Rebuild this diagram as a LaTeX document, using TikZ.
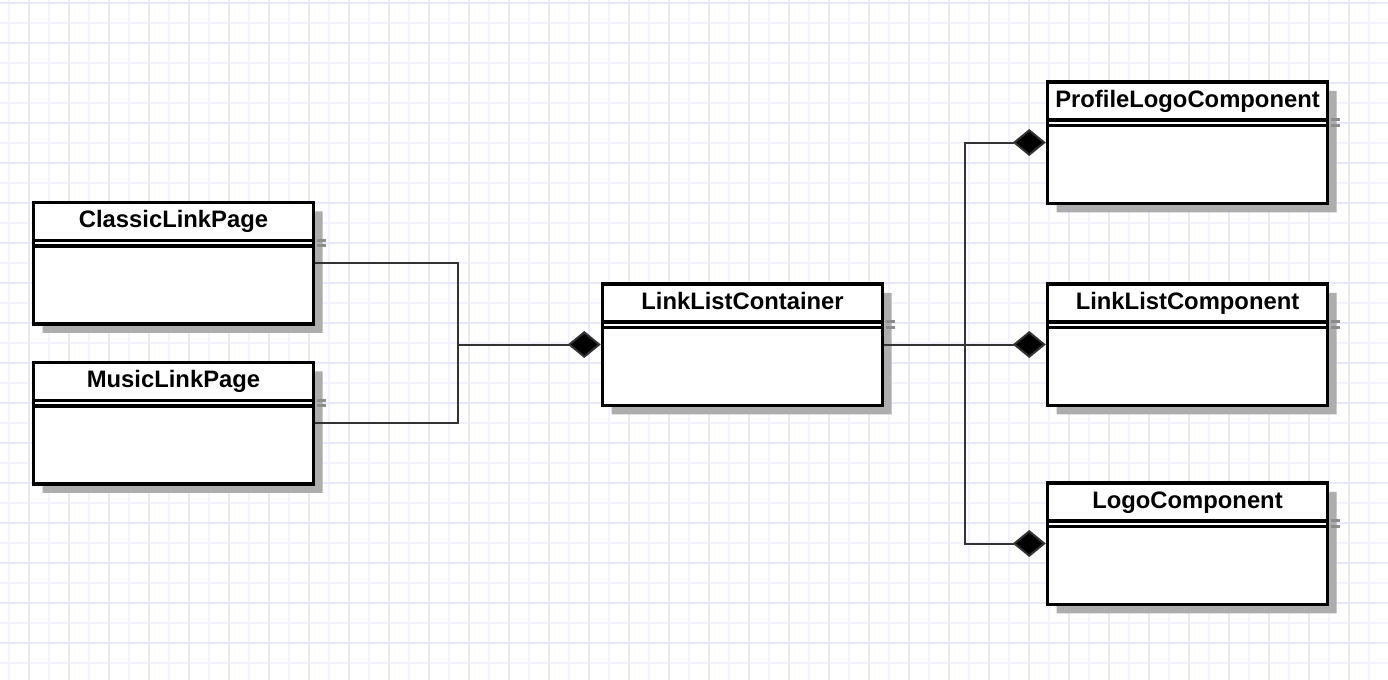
\documentclass[tikz,border=0pt]{standalone}
\usepackage{fontspec}
\setmainfont{Liberation Sans}
\usetikzlibrary{arrows.meta,shapes.multipart,shadows}

\definecolor{gridmajor}{HTML}{E8E8FB}
\definecolor{gridminor}{HTML}{F3F3FE}
\newcommand{\titlestrut}{\rule[-5.35pt]{0pt}{17.25pt}}
\newcommand{\sepstrut}{\rule{0pt}{1pt}}
\newcommand{\bodystrut}{\rule{0pt}{37.25pt}}

\begin{document}
\begin{tikzpicture}[
    x=0.5pt, y=-0.5pt,
    font=\fontsize{11.9}{14}\selectfont\bfseries,
    umlclass/.style={draw, line width=1.75pt, fill=white, rectangle split, rectangle split parts=3, minimum width=140pt, inner xsep=2pt, inner ysep=0pt, drop shadow={fill=black!32, opacity=1, shadow xshift=4.5pt, shadow yshift=-4.5pt}},
    sepshade/.style={draw=black!45, line width=1.5pt},
    assoc/.style={draw=black!80, line width=1pt},
    comp/.style={assoc, -{Diamond[length=16.5pt, width=13.5pt, fill=black]}}
]

\useasboundingbox (0,0) rectangle (1388,680);
\fill[white] (0,0) rectangle (1388,680);

% Grid
\foreach \gx in {9,49,...,1389} \draw[gridminor, line width=0.75pt] (\gx,0) -- (\gx,680);
\foreach \gy in {23,63,...,680} \draw[gridminor, line width=0.75pt] (0,\gy) -- (1388,\gy);
\foreach \gx in {29,69,...,1389} \draw[gridmajor, line width=1pt] (\gx,0) -- (\gx,680);
\foreach \gy in {3,43,...,680} \draw[gridmajor, line width=1pt] (0,\gy) -- (1388,\gy);

% Classes
\node[umlclass] (clp) at (173.5,263) {\titlestrut ClassicLinkPage\nodepart{two}\sepstrut\nodepart{three}\bodystrut};
\node[umlclass] (mlp) at (173.5,423) {\titlestrut MusicLinkPage\nodepart{two}\sepstrut\nodepart{three}\bodystrut};
\node[umlclass] (llc) at (742.5,344.5) {\titlestrut LinkListContainer\nodepart{two}\sepstrut\nodepart{three}\bodystrut};
\node[umlclass] (plc) at (1187.5,142.5) {\titlestrut ProfileLogoComponent\nodepart{two}\sepstrut\nodepart{three}\bodystrut};
\node[umlclass] (lcc) at (1187.5,344.5) {\titlestrut LinkListComponent\nodepart{two}\sepstrut\nodepart{three}\bodystrut};
\node[umlclass] (lgc) at (1187.5,543.5) {\titlestrut LogoComponent\nodepart{two}\sepstrut\nodepart{three}\bodystrut};

% Separator marks in the shadows
\foreach \cls in {clp,mlp,llc,plc,lcc,lgc} {
  \draw[sepshade] ([xshift=0.9pt]\cls.one split east) -- ++(9,0);
  \draw[sepshade] ([xshift=0.9pt]\cls.two split east) -- ++(9,0);
}

% Junctions
\coordinate (pagejoin) at (458,344.5);
\coordinate (compjoin) at (965,344.5);

% Connectors
\draw[assoc] (clp.east) -| (pagejoin) |- (mlp.east);
\draw[comp] (pagejoin) -- (llc.west);
\draw[assoc] (llc.east) -- (compjoin);
\draw[comp] (compjoin) |- (plc.west);
\draw[comp] (compjoin) -- (lcc.west);
\draw[comp] (compjoin) |- (lgc.west);

\end{tikzpicture}
\end{document}
